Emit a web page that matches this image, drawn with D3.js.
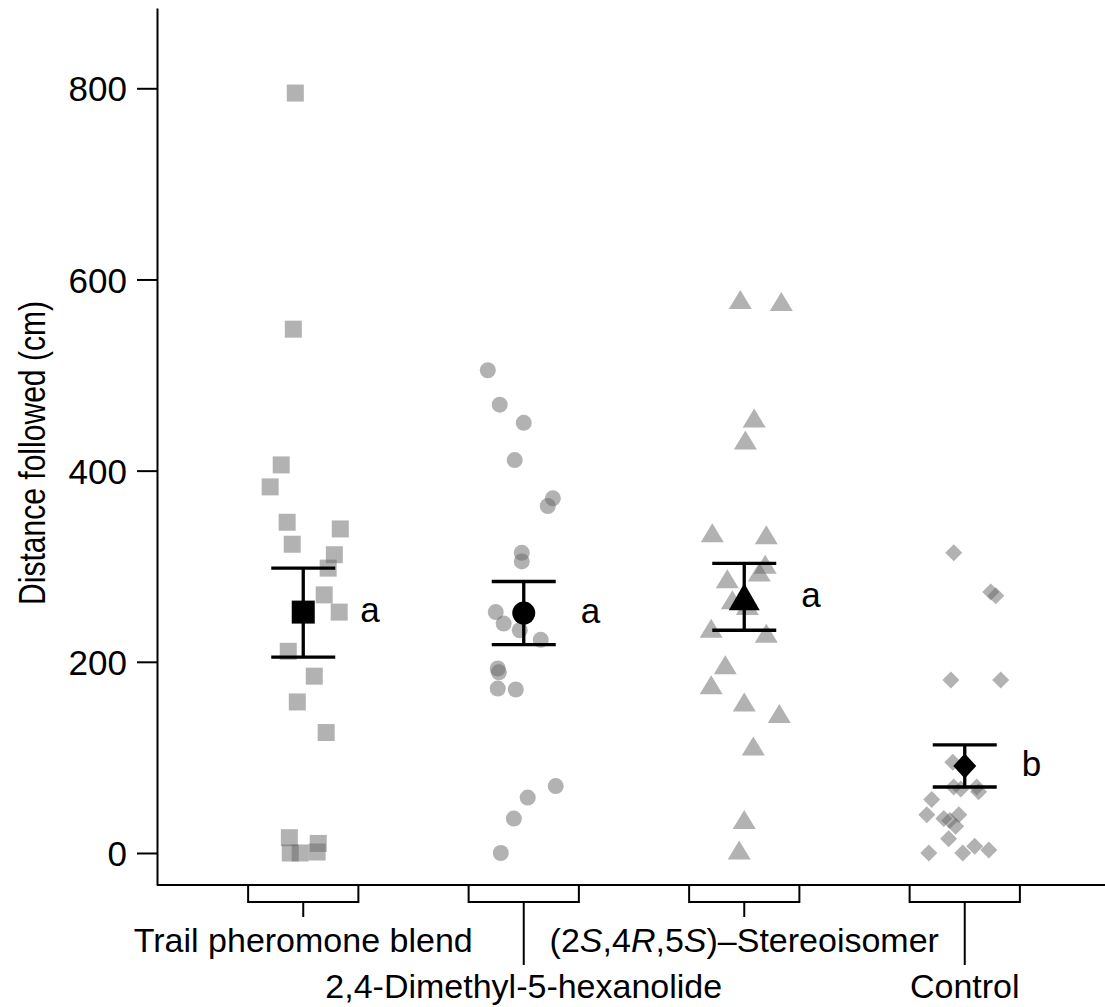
<!DOCTYPE html>
<html>
<head>
<meta charset="utf-8">
<script src="https://cdn.jsdelivr.net/npm/d3@7"></script>
<style>
  html, body { margin: 0; padding: 0; background: #fff; }
  text { font-family: "Liberation Sans", Arial, Helvetica, sans-serif; fill: #000; }
</style>
</head>
<body>
<svg id="chart" width="1105" height="1007"></svg>
<script>
// ---------- data ----------
const categories = ["Trail pheromone blend", "2,4-Dimethyl-5-hexanolide", "(2S,4R,5S)–Stereoisomer", "Control"];
const yTicks = [0, 200, 400, 600, 800];

const blendValues  = [795, 548, 406, 383, 346, 339, 323, 312, 298, 270, 252, 211, 185, 158, 126, 16, 0, 0, 10, 1];
const blendJitter  = [-0.036, -0.045, -0.10, -0.15, -0.073, 0.168, -0.05, 0.141, 0.113, 0.095, 0.163, -0.068, 0.05, -0.027, 0.104, -0.063, -0.059, -0.014, 0.068, 0.063];

const hexValues    = [505, 469, 450, 411, 371, 363, 314, 305, 252, 240, 233, 223, 193, 189, 172, 171, 70, 58, 36, 0];
const hexJitter    = [-0.163, -0.109, 0, -0.041, 0.132, 0.109, -0.009, -0.009, -0.127, -0.091, -0.018, 0.077, -0.118, -0.113, -0.118, -0.036, 0.145, 0.018, -0.045, -0.104];

const stereoValues = [579, 577, 455, 432, 335, 333, 302, 294, 287, 265, 259, 235, 230, 197, 176, 158, 146, 112, 35, 3];
const stereoJitter = [-0.018, 0.168, 0.045, 0.005, -0.145, 0.1, 0.095, 0.068, -0.077, -0.054, 0.014, -0.15, 0.1, -0.086, -0.15, 0, 0.159, 0.041, 0, -0.023];

const controlValues = [314, 273, 269, 181, 181, 95, 69, 67, 69, 64, 56, 40, 36, 40, 34, 28, 15, 7, 0, 0, 3];
const controlJitter = [-0.05, 0.118, 0.141, -0.063, 0.163, -0.054, -0.05, -0.018, 0.054, 0.063, -0.15, -0.172, -0.095, -0.027, -0.068, -0.041, -0.073, 0.045, -0.163, -0.009, 0.109];

const means    = [252, 251, 268, 91];
const errHigh  = [298, 284, 303, 113];
const errLow   = [205, 218, 233, 69];
const letters  = ["a", "a", "a", "b"];

// ---------- layout ----------
const svg = d3.select("#chart");
const axisX = 157, axisBottom = 885, axisTop = 8, rightEdge = 1105;

const x = d3.scaleLinear().domain([-0.5, 3.5]).range([193, 1075]);
const step = x(1) - x(0);
const y = d3.scaleLinear().domain([-33.5, 884]).range([axisBottom, axisTop]);

const shapes = {
  square: (w, h) => `M${-w/2},${-h/2}H${w/2}V${h/2}H${-w/2}Z`,
  circle: (w, h) => `M${-w/2},0A${w/2},${w/2} 0 1,0 ${w/2},0A${w/2},${w/2} 0 1,0 ${-w/2},0Z`,
  triangle: (w, h) => `M0,${-h/2}L${w/2},${h/2}L${-w/2},${h/2}Z`,
  diamond: (w, h) => `M0,${-h/2}L${w/2},0L0,${h/2}L${-w/2},0Z`
};

const groups = [
  { values: blendValues,   jitter: blendJitter,   shape: "square",   small: [17, 17], big: [23, 23] },
  { values: hexValues,     jitter: hexJitter,     shape: "circle",   small: [16, 16], big: [23, 23] },
  { values: stereoValues,  jitter: stereoJitter,  shape: "triangle", small: [23, 19], big: [31, 27] },
  { values: controlValues, jitter: controlJitter, shape: "diamond",  small: [17, 17], big: [23, 25] }
];

// individual points
groups.forEach((g, i) => {
  svg.append("g").selectAll("path")
    .data(g.values.map((v, k) => ({ v, j: g.jitter[k] })))
    .join("path")
    .attr("d", shapes[g.shape](g.small[0], g.small[1]))
    .attr("transform", d => `translate(${x(i + d.j)},${y(d.v)})`)
    .attr("fill", "#666")
    .attr("fill-opacity", 0.5);
});

// error bars + means
const capHalf = 32;
groups.forEach((g, i) => {
  const cx = x(i);
  const eg = svg.append("g").attr("stroke", "#000").attr("stroke-width", 3.3);
  eg.append("line").attr("x1", cx).attr("x2", cx).attr("y1", y(errHigh[i])).attr("y2", y(errLow[i]));
  eg.append("line").attr("x1", cx - capHalf).attr("x2", cx + capHalf).attr("y1", y(errHigh[i])).attr("y2", y(errHigh[i]));
  eg.append("line").attr("x1", cx - capHalf).attr("x2", cx + capHalf).attr("y1", y(errLow[i])).attr("y2", y(errLow[i]));
  svg.append("path")
    .attr("d", shapes[g.shape](g.big[0], g.big[1]))
    .attr("transform", `translate(${cx},${y(means[i])})`)
    .attr("fill", "#000");
  svg.append("text")
    .attr("x", cx + 57)
    .attr("y", y(means[i]) + 10)
    .attr("font-size", 35)
    .text(letters[i]);
});

// y axis
const yAxis = d3.axisLeft(y).tickValues(yTicks).tickSize(20).tickPadding(10).tickSizeOuter(0);
const yg = svg.append("g").attr("transform", `translate(${axisX},0)`).call(yAxis);
yg.selectAll("text").attr("font-size", 35).attr("font-family", "Liberation Sans, Arial, sans-serif").attr("fill", "#000").attr("dy", "0.36em");
yg.selectAll("line").attr("stroke", "#000").attr("stroke-width", 2);
yg.select(".domain").attr("stroke", "#000").attr("stroke-width", 2);

// bottom axis line
svg.append("line").attr("x1", axisX).attr("x2", rightEdge).attr("y1", axisBottom).attr("y2", axisBottom)
  .attr("stroke", "#000").attr("stroke-width", 2);

// category brackets
const bracketBottom = 902;
categories.forEach((c, i) => {
  const cx = x(i), half = step / 4;
  svg.append("path")
    .attr("d", `M${cx - half},${axisBottom}V${bracketBottom}H${cx + half}V${axisBottom}`)
    .attr("fill", "none").attr("stroke", "#000").attr("stroke-width", 2);
  const tickEnd = (i % 2 === 0) ? 917 : 965;
  svg.append("line").attr("x1", cx).attr("x2", cx).attr("y1", bracketBottom).attr("y2", tickEnd)
    .attr("stroke", "#000").attr("stroke-width", 2);
});

// category labels
categories.forEach((c, i) => {
  const t = svg.append("text")
    .attr("x", x(i))
    .attr("y", (i % 2 === 0) ? 952 : 998)
    .attr("text-anchor", "middle")
    .attr("font-size", 34);
  if (c.startsWith("(2S")) {
    t.append("tspan").text("(2");
    t.append("tspan").attr("font-style", "italic").text("S");
    t.append("tspan").text(",4");
    t.append("tspan").attr("font-style", "italic").text("R");
    t.append("tspan").text(",5");
    t.append("tspan").attr("font-style", "italic").text("S");
    t.append("tspan").text(")–Stereoisomer");
  } else {
    t.text(c);
  }
});

// y axis title
svg.append("text")
  .attr("transform", "translate(45,453) rotate(-90)")
  .attr("text-anchor", "middle")
  .attr("font-size", 36)
  .attr("textLength", 304)
  .attr("lengthAdjust", "spacingAndGlyphs")
  .text("Distance followed (cm)");
</script>
</body>
</html>
